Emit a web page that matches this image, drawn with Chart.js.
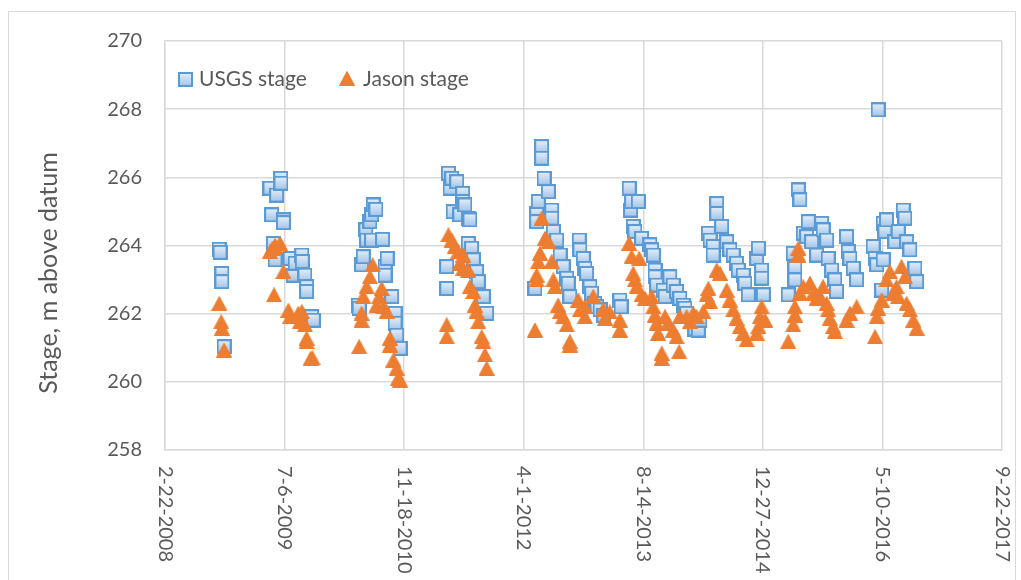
<!DOCTYPE html>
<html>
<head>
<meta charset="utf-8">
<script src="https://cdn.jsdelivr.net/npm/chart.js@4/dist/chart.umd.min.js"></script>
<style>
html,body{margin:0;padding:0;background:#fff;}
#wrap{width:1021px;height:580px;}
</style>
</head>
<body>
<div id="wrap"><canvas id="c" width="1021" height="580"></canvas></div>
<script>
// x values are Excel serial day numbers
const usgsDates = [
39726,39730,39738,39738,39747,
39939,39946,39953,39960,39967,39984,39985,39995,39995,40023,40036,40044,40072,40074,40085,40092,40092,40113,40120,
40308,40312,40322,40329,40340,40343,40357,40364,40364,40371,40382,40410,40420,40420,40429,40448,40462,40462,40469,40483,
40678,40678,40685,40692,40699,40705,40720,40733,40745,40745,40754,40768,40768,40775,40782,40789,40803,40810,40831,40845,
41047,41054,41054,41061,41075,41075,41085,41103,41117,41117,41124,41138,41152,41165,41180,41186,41193,41232,41235,41249,41256,41263,41277,41284,41298,41306,41319,41335,41402,41407,
41441,41447,41451,41458,41465,41479,41493,41528,41535,41542,41549,41549,41556,41583,41591,41611,41625,41639,41653,41667,41674,41681,41716,41730,41737,
41772,41779,41792,41792,41807,41807,41828,41849,41862,41876,41890,41897,41918,41925,41939,41974,41981,41995,41995,42002,
42106,42127,42134,42134,42148,42155,42169,42183,42190,42204,42225,42246,42252,42267,42273,42288,42301,42308,42350,42357,42364,42378,42392,
42461,42469,42476,42482,42497,42503,42503,42510,42517,42552,42566,42587,42594,42601,42615,42636,42643
];
const usgsStage = [
263.89,263.80,263.18,262.94,261.03,
265.68,264.90,264.06,263.58,265.48,265.97,265.83,264.75,264.67,263.62,263.13,263.48,263.72,263.53,263.13,262.79,262.65,261.91,261.81,
262.25,262.16,263.43,263.67,264.46,264.16,264.70,264.90,264.16,265.19,265.06,264.18,263.38,263.13,263.62,262.50,262.01,261.72,261.37,260.98,
263.38,262.74,266.12,265.68,265.97,264.99,265.87,264.90,265.53,265.29,265.19,264.80,264.06,264.75,263.92,263.58,263.23,262.94,262.50,262.01,
262.74,264.94,264.70,265.29,266.90,266.56,265.97,265.58,265.04,264.80,264.41,264.16,263.72,263.38,263.04,262.89,262.50,264.16,263.87,263.62,263.33,263.18,262.79,262.60,262.30,262.20,262.11,261.95,262.40,262.20,
265.68,265.04,265.29,264.56,264.41,265.29,264.21,264.02,263.87,263.72,263.28,263.08,262.84,262.69,262.50,263.08,262.84,262.65,262.45,262.25,262.16,262.01,261.55,261.52,261.81,
264.36,264.16,263.97,263.72,265.23,264.94,264.56,264.11,263.87,263.72,263.48,263.28,263.13,262.89,262.55,263.62,263.92,263.28,263.04,262.55,
262.55,263.77,263.33,262.99,265.63,265.34,264.36,264.26,264.70,264.11,263.72,264.65,264.46,264.16,263.62,263.28,262.99,262.65,264.26,263.82,263.62,263.33,262.99,
263.97,263.62,263.43,267.98,262.69,264.65,263.58,264.41,264.75,264.11,264.41,265.04,264.80,264.11,263.87,263.33,262.94
];
const jasonDates = [
39727,39735,39738,39747,
39939,39950,39956,39960,39981,39995,40016,40023,40057,40064,40072,40085,40092,40092,40109,40117,
40312,40322,40322,40329,40343,40357,40368,40385,40396,40406,40413,40427,40441,40441,40455,40469,40475,40483,
40678,40678,40685,40699,40712,40726,40733,40747,40747,40768,40775,40789,40796,40803,40810,40824,40831,40838,40845,
41047,41054,41054,41061,41068,41075,41089,41103,41117,41124,41131,41144,41152,41165,41180,41193,41193,41228,41235,41256,41256,41291,41332,41340,41360,41402,41402,
41441,41451,41458,41465,41472,41483,41493,41507,41535,41542,41549,41556,41562,41577,41577,41591,41604,41625,41639,41650,41653,41681,41695,41709,41723,41751,41765,41772,41779,
41807,41821,41849,41862,41876,41890,41904,41918,41932,41974,41981,41988,41995,42009,
42106,42127,42134,42134,42148,42148,42155,42169,42197,42211,42225,42239,42252,42267,42273,42280,42294,42301,42350,42364,42392,
42469,42476,42482,42497,42517,42531,42545,42559,42566,42580,42594,42601,42615,42629,42643
];
const jasonStage = [
262.30,261.76,261.57,260.93,
263.82,263.92,262.55,264.00,264.06,263.23,262.10,261.91,262.01,261.76,262.06,261.67,261.28,261.18,260.69,260.70,
261.03,262.01,261.81,262.50,262.79,263.08,263.43,262.25,262.50,262.74,262.20,262.06,261.28,261.08,260.64,260.40,260.10,260.05,
261.67,261.32,264.31,264.16,263.97,263.82,263.48,263.72,263.33,263.28,262.79,262.65,262.25,262.06,261.76,261.32,261.18,260.79,260.40,
261.52,263.13,262.99,263.53,263.77,264.80,264.21,264.11,263.53,262.99,262.79,262.25,262.06,261.91,261.67,261.18,261.08,262.40,262.11,262.20,261.91,262.50,262.11,261.86,262.05,261.81,261.52,
264.06,263.67,263.18,262.99,262.79,263.62,262.55,262.45,262.50,262.20,261.96,261.72,261.42,260.84,260.69,261.91,261.72,261.52,261.32,260.88,261.91,261.91,261.76,262.01,261.91,262.06,262.55,262.74,262.35,
263.28,263.18,262.69,262.40,262.11,261.86,261.62,261.42,261.23,261.42,261.62,261.91,262.20,261.81,
261.18,261.67,261.96,262.20,263.92,263.72,262.60,262.79,262.89,262.60,262.45,262.50,262.79,262.30,262.11,261.86,261.62,261.47,261.81,262.01,262.20,
261.32,261.91,262.16,262.40,262.99,263.23,262.60,262.79,262.50,263.38,263.08,262.30,262.11,261.81,261.57
];
const xTickValues = [39500,40000,40500,41000,41500,42000,42500,43000];
const xTickLabels = ["2-22-2008","7-6-2009","11-18-2010","4-1-2012","8-14-2013","12-27-2014","5-10-2016","9-22-2017"];
const yMin = 258, yMax = 270, yStep = 2;
const seriesNames = ["USGS stage","Jason stage"];
const yTitle = "Stage, m above datum";

const FONT = "Lato, 'Open Sans', sans-serif";
const TXT = "#595959";
const GRID = "#d9d9d9";

function makeSquare(){
  const c = document.createElement('canvas'); c.width = 15; c.height = 15;
  const g = c.getContext('2d');
  const gr = g.createLinearGradient(0,1,0,14);
  gr.addColorStop(0,'#e4eef9'); gr.addColorStop(1,'#a3c5e8');
  g.fillStyle = gr; g.fillRect(1,1,13,13);
  g.strokeStyle = '#5b9bd5'; g.lineWidth = 2; g.strokeRect(1,1,13,13);
  return c;
}
function makeTriangle(){
  const c = document.createElement('canvas'); c.width = 16; c.height = 15;
  const g = c.getContext('2d');
  g.beginPath(); g.moveTo(8,0.5); g.lineTo(15.5,14.5); g.lineTo(0.5,14.5); g.closePath();
  g.fillStyle = '#ed7d31'; g.fill();
  g.strokeStyle = '#ed7d31'; g.lineWidth = 1; g.stroke();
  return c;
}
const sqImg = makeSquare();
const triImg = makeTriangle();

const usgsPts = usgsDates.map((d,i)=>({x:d,y:usgsStage[i]}));
const jasonPts = jasonDates.map((d,i)=>({x:d,y:jasonStage[i]}));

const deco = {
  id:'deco',
  beforeDraw(chart){
    const ctx = chart.ctx;
    ctx.save();
    ctx.fillStyle = '#fff';
    ctx.fillRect(0,0,chart.width,chart.height);
    ctx.strokeStyle = GRID; ctx.lineWidth = 1;
    ctx.strokeRect(8.5,11.5,1007,600);
    ctx.restore();
  },
  afterDraw(chart){
    const ctx = chart.ctx;
    const xs = chart.scales.x;
    ctx.save();
    ctx.fillStyle = TXT;
    ctx.font = "20px " + FONT;
    // x tick labels, rotated reading downward
    ctx.textAlign = 'left'; ctx.textBaseline = 'middle';
    xTickValues.forEach((v,i)=>{
      const px = xs.getPixelForValue(v);
      ctx.save();
      ctx.translate(px, chart.chartArea.bottom + 16);
      ctx.rotate(Math.PI/2);
      ctx.fillText(xTickLabels[i], 0, 0);
      ctx.restore();
    });
    // y title
    ctx.save();
    ctx.font = "25px " + FONT;
    ctx.translate(49, 273);
    ctx.rotate(-Math.PI/2);
    ctx.textAlign = 'center'; ctx.textBaseline = 'middle';
    ctx.fillText(yTitle, 0, 0);
    ctx.restore();
    // legend
    const ly = 79;
    ctx.font = "21px " + FONT;
    ctx.textAlign = 'left'; ctx.textBaseline = 'middle';
    ctx.drawImage(sqImg, 178, ly-7);
    ctx.fillText(seriesNames[0], 199, ly);
    ctx.drawImage(triImg, 339, ly-8);
    ctx.fillText(seriesNames[1], 363, ly);
    ctx.restore();
  }
};

new Chart(document.getElementById('c'), {
  type:'scatter',
  data:{
    datasets:[
      {label:seriesNames[0], data:usgsPts, pointStyle:sqImg, pointRadius:7, order:1,
       backgroundColor:'#bdd7ee', borderColor:'#5b9bd5'},
      {label:seriesNames[1], data:jasonPts, pointStyle:triImg, pointRadius:7, order:0,
       backgroundColor:'#ed7d31', borderColor:'#ed7d31'}
    ]
  },
  options:{
    responsive:false,
    animation:false,
    layout:{padding:{top:41,right:19,bottom:0,left:0}},
    plugins:{legend:{display:false},tooltip:{enabled:false}},
    scales:{
      x:{
        type:'linear', min:xTickValues[0], max:xTickValues[xTickValues.length-1],
        afterBuildTicks(s){ s.ticks = xTickValues.map(v=>({value:v})); },
        ticks:{display:false},
        grid:{color:GRID, lineWidth:1.5, drawTicks:false},
        border:{color:GRID, width:1.5},
        afterFit(s){ s.height = 130; }
      },
      y:{
        min:yMin, max:yMax,
        ticks:{stepSize:yStep, color:TXT, font:{family:FONT, size:20}, padding:23},
        grid:{color:GRID, lineWidth:1.5, drawTicks:false},
        border:{color:GRID, width:1.5},
        afterFit(s){ s.width = 165; }
      }
    }
  },
  plugins:[deco]
});
</script>
</body>
</html>
